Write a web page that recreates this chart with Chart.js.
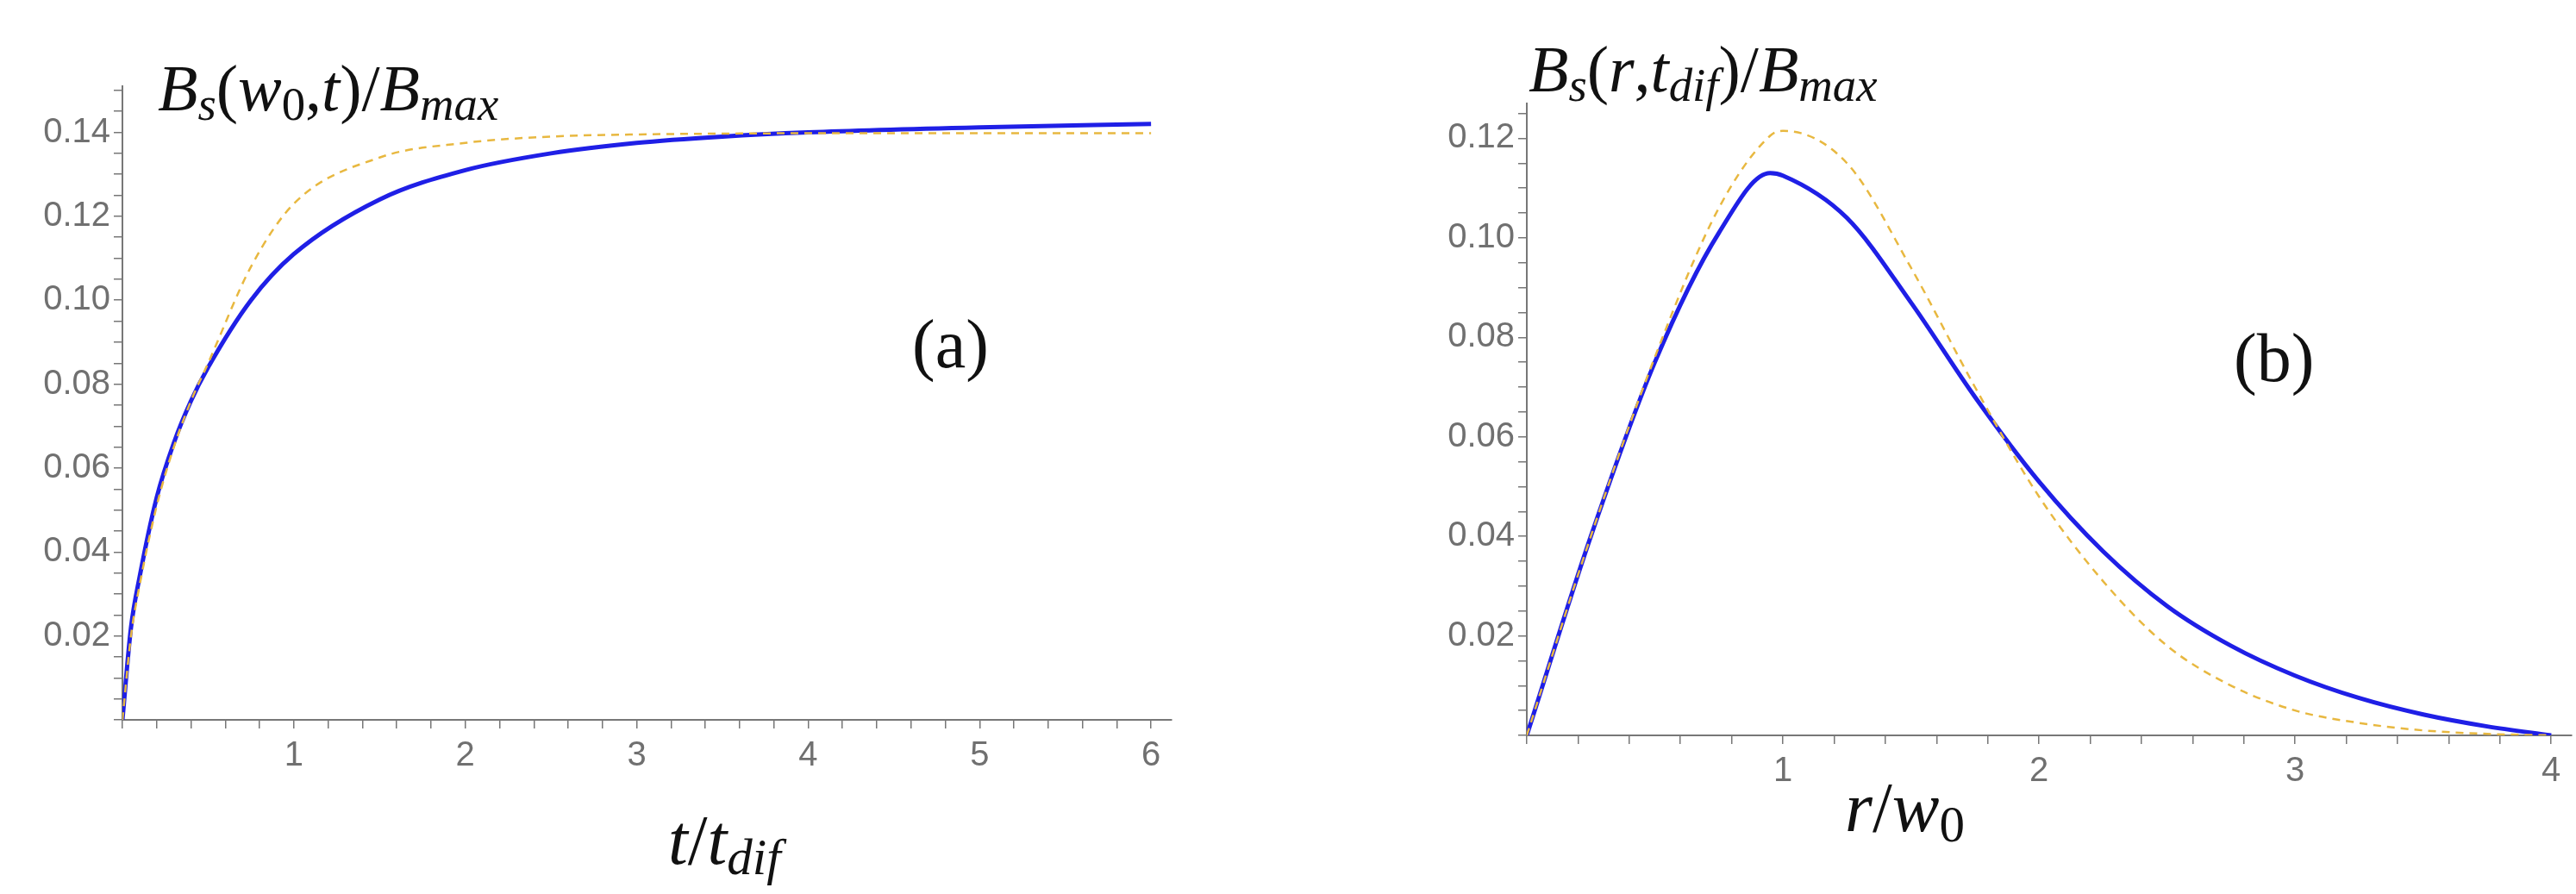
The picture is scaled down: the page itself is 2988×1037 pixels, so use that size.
<!DOCTYPE html>
<html>
<head>
<meta charset="utf-8">
<script src="https://cdn.jsdelivr.net/npm/chart.js@4"></script>
<style>
  body { margin: 0; background: #fff; }
  .panel { position: absolute; top: 0; width: 1494px; height: 1037px; }
</style>
</head>
<body>
<div class="panel" style="left:0"><canvas id="chartA"></canvas></div>
<div class="panel" style="left:1494px"><canvas id="chartB"></canvas></div>
<script>
// (a) B_s(w0,t)/B_max vs t/t_dif
const tValues = [0, 0.05, 0.1, 0.2, 0.3, 0.4, 0.5, 0.75, 1, 1.5, 2, 2.5, 3, 3.5, 4, 5, 6];
const bluA    = [0, 0.022, 0.034, 0.053, 0.066, 0.076, 0.084, 0.100, 0.111, 0.124, 0.131, 0.135, 0.1375, 0.139, 0.140, 0.1412, 0.142];
const dashA   = [0, 0.020, 0.032, 0.051, 0.065, 0.076, 0.085, 0.108, 0.123, 0.134, 0.1375, 0.139, 0.1395, 0.1397, 0.1398, 0.1398, 0.1398];

// (b) B_s(r,t_dif)/B_max vs r/w0
const rValues = [0, 0.25, 0.5, 0.75, 0.95, 1, 1.25, 1.5, 1.75, 2, 2.25, 2.5, 2.75, 3, 3.25, 3.5, 3.75, 4];
const bluB    = [0, 0.040, 0.075, 0.101, 0.113, 0.1125, 0.104, 0.087, 0.068, 0.051, 0.037, 0.026, 0.018, 0.012, 0.0075, 0.0042, 0.0018, 0];
const dashB   = [0, 0.040, 0.076, 0.106, 0.1205, 0.1215, 0.115, 0.094, 0.070, 0.048, 0.031, 0.018, 0.010, 0.005, 0.0025, 0.001, 0.0003, 0];

const xLabelsA = [1, 2, 3, 4, 5, 6];
const xLabelsB = [1, 2, 3, 4];
const yLabels = [0.02, 0.04, 0.06, 0.08, 0.10, 0.12, 0.14];

const tickFont = { family: 'Liberation Sans, Arial', size: 40 };
const tickColor = '#707070';

function pts(xs, ys) { return xs.map((x, i) => ({ x: x, y: ys[i] })); }

function isLabel(v, list) {
  return list.some(l => Math.abs(l - v) < 1e-6);
}

// minor + major tick positions
function tickList(max, step) {
  const out = [];
  for (let i = 0; i * step <= max + 1e-9; i++) out.push({ value: +(i * step).toFixed(4) });
  return out;
}

// draws math-like text made of pieces [text, 'sub'|'', italic]
function drawMath(ctx, x, y, parts, size) {
  let cx = x;
  parts.forEach(p => {
    const sub = p[1] === 'sub';
    const fs = sub ? size * 0.72 : size;
    ctx.font = (p[2] ? 'italic ' : '') + fs + 'px "Liberation Serif", serif';
    ctx.fillText(p[0], cx, sub ? y + size * 0.22 : y);
    cx += ctx.measureText(p[0]).width;
  });
}

function makeLabels(yTitle, xTitle, tag) {
  return {
    id: 'labels',
    afterDraw(chart) {
      const ctx = chart.ctx;
      ctx.save();
      ctx.fillStyle = '#111';
      ctx.textBaseline = 'middle';
      drawMath(ctx, yTitle.x, yTitle.y, yTitle.parts, 76);
      drawMath(ctx, xTitle.x, xTitle.y, xTitle.parts, 82);
      ctx.font = '80px "Liberation Serif", serif';
      ctx.fillText(tag.text, tag.x, tag.y);
      ctx.restore();
    }
  };
}

function makeChart(id, cfg) {
  return new Chart(document.getElementById(id), {
    type: 'line',
    data: {
      datasets: [{
        data: cfg.dash, borderColor: '#e8b840', borderWidth: 2.5,
        borderDash: [9, 7], pointRadius: 0, cubicInterpolationMode: 'monotone'
      }, {
        data: cfg.blue, borderColor: '#1f1fe6', borderWidth: 5,
        pointRadius: 0, cubicInterpolationMode: 'monotone'
      }]
    },
    options: {
      responsive: true, maintainAspectRatio: false, animation: false,
      layout: { padding: { top: cfg.top, right: cfg.right, left: 0, bottom: 0 } },
      plugins: { legend: { display: false }, tooltip: { enabled: false } },
      scales: {
        x: {
          type: 'linear', min: 0, max: cfg.xMax,
          afterBuildTicks: s => { s.ticks = tickList(cfg.xMax, 0.2); },
          afterFit: s => { s.height = cfg.bottomH; },
          border: { color: '#777', width: 2 },
          grid: { drawOnChartArea: false, color: '#777', tickLength: 10, lineWidth: 1.5 },
          ticks: {
            autoSkip: false, maxRotation: 0, padding: 8,
            font: tickFont, color: tickColor,
            callback: v => isLabel(v, cfg.xLabels) ? String(Math.round(v)) : ''
          }
        },
        y: {
          min: 0, max: cfg.yMax,
          afterBuildTicks: s => { s.ticks = tickList(cfg.yMax, 0.005); },
          afterFit: s => { s.width = cfg.leftW; },
          border: { color: '#777', width: 2 },
          grid: { drawOnChartArea: false, color: '#777', tickLength: 10, lineWidth: 1.5 },
          ticks: {
            autoSkip: false, padding: 4,
            font: tickFont, color: tickColor,
            callback: v => isLabel(v, yLabels) ? v.toFixed(2) : ''
          }
        }
      }
    },
    plugins: [cfg.labels]
  });
}

makeChart('chartA', {
  blue: pts(tValues, bluA), dash: pts(tValues, dashA), xLabels: xLabelsA,
  xMax: 6.12, yMax: 0.151, top: 100, right: 135, leftW: 142, bottomH: 202,
  labels: makeLabels(
    { x: 183, y: 108, parts: [['B', '', 1], ['s', 'sub', 1], ['(', ''], ['w', '', 1], ['0', 'sub'], [',', ''], ['t', '', 1], [')/', ''], ['B', '', 1], ['max', 'sub', 1]] },
    { x: 775, y: 980, parts: [['t', '', 1], ['/', ''], ['t', '', 1], ['dif', 'sub', 1]] },
    { text: '(a)', x: 1058, y: 405 })
});

makeChart('chartB', {
  blue: pts(rValues, bluB), dash: pts(rValues, dashB), xLabels: xLabelsB,
  xMax: 4.08, yMax: 0.127, top: 120, right: 5, leftW: 277, bottomH: 184,
  labels: makeLabels(
    { x: 279, y: 86, parts: [['B', '', 1], ['s', 'sub', 1], ['(', ''], ['r', '', 1], [',', ''], ['t', '', 1], ['dif', 'sub', 1], [')/', ''], ['B', '', 1], ['max', 'sub', 1]] },
    { x: 646, y: 942, parts: [['r', '', 1], ['/', ''], ['w', '', 1], ['0', 'sub']] },
    { text: '(b)', x: 1097, y: 421 })
});
</script>
</body>
</html>
